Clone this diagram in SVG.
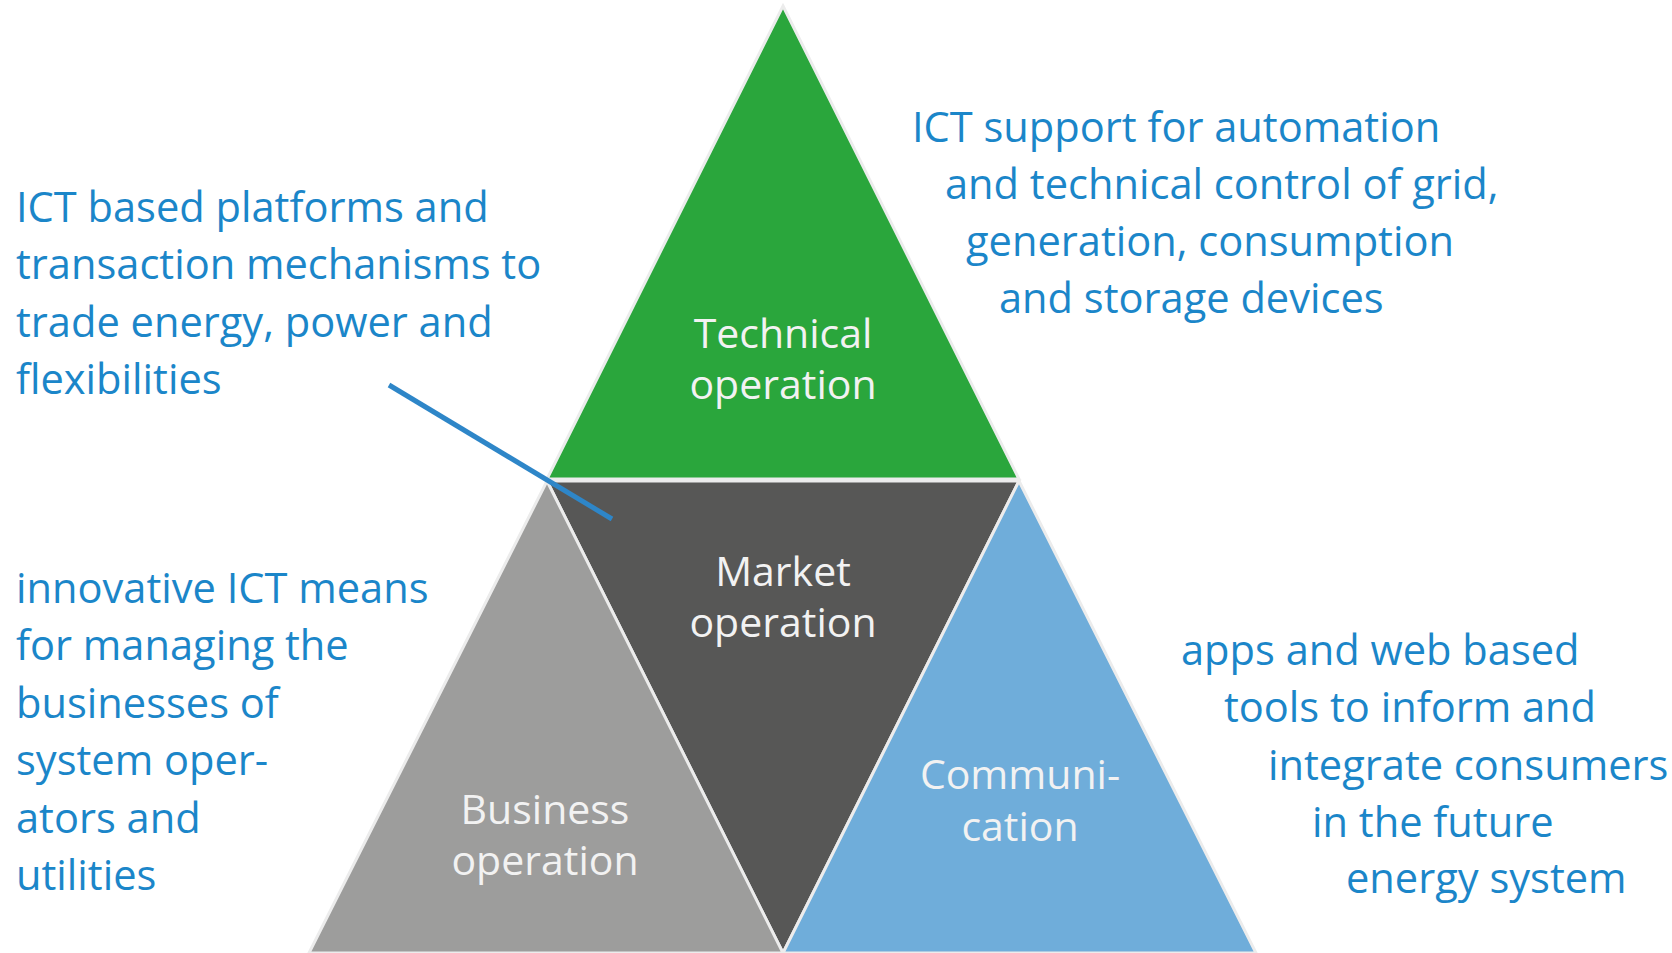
<svg xmlns="http://www.w3.org/2000/svg" width="1672" height="953" viewBox="0 0 1672 953">
<style>
.tri{stroke:#ececec;stroke-width:3;stroke-linejoin:miter}
.desc{font-family:"Open Sans","Noto Sans",sans-serif;font-size:41.6px;fill:#1b86c9}
.lab{font-family:"Open Sans","Noto Sans",sans-serif;font-size:41px;fill:#f2f2f2;text-anchor:middle}
</style>
<rect width="1672" height="953" fill="#ffffff"/>
<g id="technical">
<polygon class="tri" points="783,6 1019,479 547,479" fill="#2aa63c"/>
<text class="lab" x="783" y="348">Technical</text>
<text class="lab" x="783" y="399">operation</text>
</g>
<g id="market">
<polygon class="tri" points="547,481 1019,481 783,953" fill="#575756"/>
<text class="lab" x="783" y="586">Market</text>
<text class="lab" x="783" y="637">operation</text>
</g>
<g id="business">
<polygon class="tri" points="547,481 783,953 309,953" fill="#9d9d9c"/>
<text class="lab" x="545" y="824">Business</text>
<text class="lab" x="545" y="875">operation</text>
</g>
<g id="communication">
<polygon class="tri" points="1019,481 1256,953 783,953" fill="#6fadda"/>
<text class="lab" x="1020" y="789">Communi-</text>
<text class="lab" x="1020" y="841">cation</text>
</g>
<g id="connectors">
<line x1="389" y1="385" x2="612" y2="519" stroke="#2e86c8" stroke-width="5"/>
</g>
<g id="desc-market">
<text class="desc" x="16" y="222">ICT based platforms and</text>
<text class="desc" x="16" y="279">transaction mechanisms to</text>
<text class="desc" x="16" y="337">trade energy, power and</text>
<text class="desc" x="16" y="394">flexibilities</text>
</g>
<g id="desc-technical">
<text class="desc" x="912" y="142">ICT support for automation</text>
<text class="desc" x="945" y="199">and technical control of grid,</text>
<text class="desc" x="966" y="256">generation, consumption</text>
<text class="desc" x="999" y="313">and storage devices</text>
</g>
<g id="desc-business">
<text class="desc" x="16" y="603">innovative ICT means</text>
<text class="desc" x="16" y="660">for managing the</text>
<text class="desc" x="16" y="718">businesses of</text>
<text class="desc" x="16" y="775">system oper-</text>
<text class="desc" x="16" y="833">ators and</text>
<text class="desc" x="16" y="890">utilities</text>
</g>
<g id="desc-communication">
<text class="desc" x="1181" y="665">apps and web based</text>
<text class="desc" x="1224" y="722">tools to inform and</text>
<text class="desc" x="1268" y="780">integrate consumers</text>
<text class="desc" x="1312" y="837">in the future</text>
<text class="desc" x="1346" y="893">energy system</text>
</g>
</svg>
